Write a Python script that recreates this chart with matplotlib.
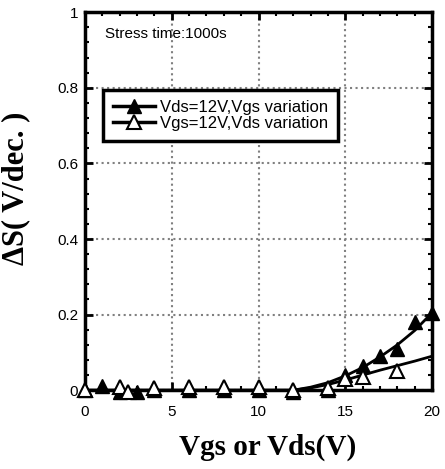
import numpy as np
import matplotlib.pyplot as plt
from matplotlib.ticker import MultipleLocator

# Vds=12V, Vgs variation (filled)
vgs_x = [0, 1, 2, 3, 4, 6, 8, 10, 12, 14, 15, 16, 17, 18, 19, 20]
vgs_y = [0.0, 0.012, -0.006, -0.004, 0.0, 0.0, 0.0, 0.0, -0.006, 0.0, 0.04, 0.065, 0.09, 0.11, 0.18, 0.205]
# Vgs=12V, Vds variation (open)
vds_x = [0, 2, 2.5, 4, 6, 8, 10, 12, 14, 15, 16, 18]
vds_y = [0.0, 0.008, -0.004, 0.005, 0.008, 0.008, 0.008, 0.0, 0.005, 0.03, 0.035, 0.05]

# fitted trend curves
fit1_x = [0, 12, 13, 14, 15, 16, 17, 18, 19, 20]
fit1_y = [0.0, 0.0, 0.008, 0.02, 0.038, 0.06, 0.088, 0.12, 0.158, 0.205]
fit2_x = [0, 12, 13, 14, 15, 16, 17, 18, 19, 20]
fit2_y = [0.0, 0.0, 0.006, 0.015, 0.027, 0.04, 0.053, 0.065, 0.077, 0.09]

xticks = [0, 5, 10, 15, 20]
yticks = [0, 0.2, 0.4, 0.6, 0.8, 1]
ytick_labels = ['0', '0.2', '0.4', '0.6', '0.8', '1']

plt.rcParams['font.family'] = ['Liberation Sans', 'DejaVu Sans']

fig = plt.figure(figsize=(4.45, 4.69), dpi=100)
ax = fig.add_axes([0.191, 0.168, 0.78, 0.806])

ax.plot(fit1_x, fit1_y, color='black', lw=2)
ax.plot(fit2_x, fit2_y, color='black', lw=2)
ax.plot(vgs_x, vgs_y, ls='none', marker='^', ms=10, mfc='black', mec='black',
        clip_on=False, zorder=4)
ax.plot(vds_x, vds_y, ls='none', marker='^', ms=10, mfc='white', mec='black',
        mew=1.5, clip_on=False, zorder=5)

# legend proxies
h1, = ax.plot([], [], color='black', lw=2.5, marker='^', ms=10, mfc='black', mec='black')
h2, = ax.plot([], [], color='black', lw=2.5, marker='^', ms=10, mfc='white', mec='black', mew=1.5)
leg = ax.legend([h1, h2], ['Vds=12V,Vgs variation', 'Vgs=12V,Vds variation'],
                loc='upper left', bbox_to_anchor=(0.052, 0.794), borderaxespad=0,
                fancybox=False, framealpha=1, edgecolor='black', fontsize=12,
                handlelength=2.5, handletextpad=0.3, borderpad=0.6,
                labelspacing=0.05)
leg.get_frame().set_linewidth(2.5)

ax.text(0.057, 0.962, 'Stress time:1000s', transform=ax.transAxes, fontsize=11,
        va='top', ha='left')

ax.set_xlim(0, 20)
ax.set_ylim(0, 1)
ax.set_xticks(xticks)
ax.set_yticks(yticks)
ax.set_yticklabels(ytick_labels)
ax.xaxis.set_minor_locator(MultipleLocator(1))
ax.yaxis.set_minor_locator(MultipleLocator(0.04))
ax.tick_params(which='both', direction='in', top=True, right=True, labelsize=11)
ax.tick_params(axis='x', which='major', pad=11)
ax.tick_params(axis='y', which='major', pad=5)
ax.tick_params(which='major', length=6, width=2)
ax.tick_params(which='minor', length=3, width=1.5)
for s in ax.spines.values():
    s.set_linewidth(2.5)
ax.grid(True, which='major', color='gray', ls=':', lw=1.5)
ax.set_axisbelow(True)

ax.set_xlabel('Vgs or Vds(V)', family=['Liberation Serif'], fontweight='bold',
              fontsize=21)
ax.set_ylabel('ΔS( V/dec. )', family=['Liberation Serif'], fontweight='bold',
              fontsize=22)
ax.xaxis.set_label_coords(0.527, -0.114)
ax.yaxis.set_label_coords(-0.158, 0.534)

fig.savefig('out.png', dpi=100)
